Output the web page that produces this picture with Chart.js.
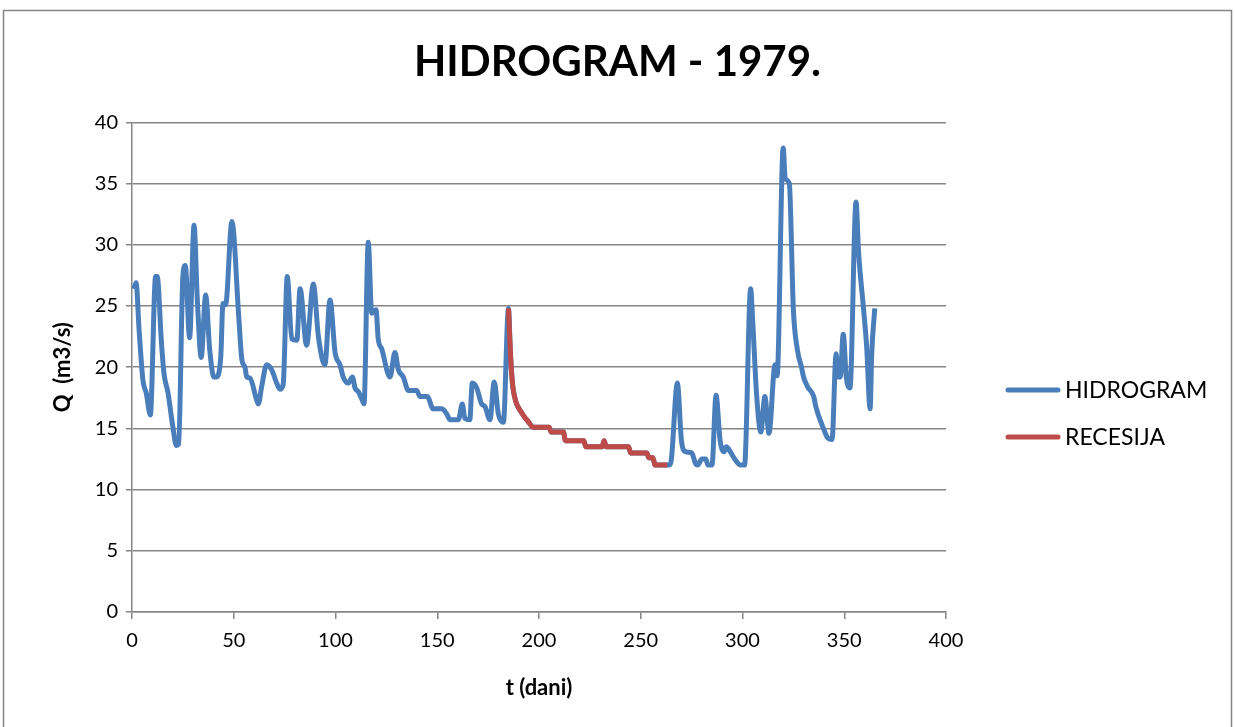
<!DOCTYPE html>
<html>
<head>
<meta charset="utf-8">
<script src="https://cdn.jsdelivr.net/npm/chart.js@4/dist/chart.umd.min.js"></script>
<style>
  html, body { margin: 0; padding: 0; background: #ffffff; }
  #wrap { width: 1235px; height: 727px; }
</style>
</head>
<body>
<div id="wrap"><canvas id="grafica" width="1235" height="727"></canvas></div>
<script>
// Hidrogram 1979 - podaci ocitani sa slike (dan, protok)
const daniPocetak = [1, 2, 3.5, 5.4, 7, 9, 11.6, 12.4, 14.4, 15.7, 17.7, 20.1, 21.8, 22.9, 25, 26.2, 28.3, 30.5, 32.1, 34, 36.2, 38.2, 40.3, 41.4, 43.6, 44.7, 46, 49.1, 52.5, 54, 55.5, 56.4, 58, 61.3, 62.1, 63.7, 66.2, 68.6, 71.1, 72.7, 74.3, 76.3, 78.5, 81, 82.6, 85.8, 89.1, 91.6, 94.8, 97.3, 99.8, 102.2, 103.8, 106.3, 108.3, 109.6, 111.2, 112.9, 114, 116.1, 117.8, 119.9, 121, 122.7, 126.8, 129.2, 130.9, 133.3, 135.8, 139.9, 141.5, 145.1, 148, 152.2, 154.6, 156.3, 160.4, 162.3, 163.6, 166, 167.2, 169.4, 171.8, 173.4, 175.9, 178, 180, 182.5];
const qPocetak = [26.4, 26.9, 23.0, 18.9, 17.9, 16.1, 27.4, 27.4, 22.2, 19.5, 17.9, 15.1, 13.6, 13.7, 27.4, 28.3, 22.4, 31.6, 25.5, 20.8, 25.9, 21.4, 19.2, 19.2, 20.8, 25.2, 25.1, 31.9, 24.0, 20.6, 20.0, 19.2, 19.1, 17.3, 17.0, 18.4, 20.2, 19.8, 18.7, 18.2, 18.6, 27.4, 22.3, 22.2, 26.4, 21.8, 26.8, 22.5, 20.2, 25.5, 21.2, 20.2, 19.2, 18.7, 19.2, 18.3, 18.0, 17.4, 17.0, 30.2, 24.4, 24.7, 22.3, 21.5, 19.2, 21.2, 19.8, 19.2, 18.1, 18.1, 17.6, 17.6, 16.6, 16.6, 16.2, 15.7, 15.7, 17.0, 15.8, 15.7, 18.7, 18.3, 17.0, 16.8, 15.7, 18.8, 16.2, 15.5];

// recesija
const daniRecesija = [185, 186, 187, 188, 189, 191, 193, 195, 197, 205, 206, 212, 213, 222, 223, 231, 232, 233, 244, 245, 253, 254, 256, 257, 263];
const qRecesija = [24.8, 21.0, 18.6, 17.6, 17.0, 16.4, 15.9, 15.5, 15.1, 15.1, 14.7, 14.7, 14.0, 14.0, 13.5, 13.5, 14.0, 13.5, 13.5, 13.0, 13.0, 12.6, 12.6, 12.0, 12.0];

const daniKraj = [264, 265, 268, 270, 272, 275, 277, 278, 280, 282, 283, 285, 287, 289, 291, 292, 294, 295, 297, 299, 301, 304, 305, 307, 309, 311, 313, 316, 317, 320, 321, 323, 325, 327, 329, 330, 332, 335, 336, 340, 342, 344, 346, 347, 348, 349.5, 351, 352.8, 355.8, 357, 359.4, 361, 362.7, 363.5, 365];
const qKraj = [12.0, 12.4, 18.7, 14.0, 13.1, 13.0, 12.1, 12.0, 12.5, 12.5, 12.0, 12.0, 17.7, 14.0, 13.1, 13.5, 13.1, 12.8, 12.3, 12.0, 12.0, 26.4, 23.8, 17.6, 14.7, 17.6, 14.6, 20.2, 19.3, 37.9, 35.4, 35.0, 24.7, 21.4, 20.0, 19.2, 18.4, 17.6, 16.8, 14.9, 14.2, 14.1, 21.1, 19.2, 19.2, 22.7, 19.2, 18.3, 33.5, 29.5, 24.9, 21.7, 16.6, 21.1, 24.8];

const xTicks = [0, 50, 100, 150, 200, 250, 300, 350, 400];
const yTicks = [0, 5, 10, 15, 20, 25, 30, 35, 40];

const toPoints = (xs, ys) => xs.map((x, i) => ({ x: x, y: ys[i] }));
const hidrogram = toPoints(daniPocetak, qPocetak)
  .concat(toPoints(daniRecesija, qRecesija))
  .concat(toPoints(daniKraj, qKraj));
const recesija = toPoints(daniRecesija, qRecesija);

const sivo = '#868686';
const font = 'Lato, "Liberation Sans", sans-serif';

// okvir oko cijelog grafa
const okvir = {
  id: 'okvir',
  beforeDraw(chart) {
    const ctx = chart.ctx;
    ctx.save();
    ctx.fillStyle = '#ffffff';
    ctx.fillRect(0, 0, chart.width, chart.height);
    ctx.strokeStyle = sivo;
    ctx.lineWidth = 1.5;
    ctx.strokeRect(3.5, 10.5, 1228, 740);
    ctx.restore();
  }
};

// legenda desno
const legenda = {
  id: 'legenda',
  afterDraw(chart) {
    const ctx = chart.ctx;
    const stavke = [chart.data.datasets[0], chart.data.datasets[1]];
    ctx.save();
    ctx.font = '23px ' + font;
    ctx.textBaseline = 'middle';
    ctx.lineCap = 'round';
    stavke.forEach((ds, i) => {
      const y = 390 + i * 47;
      ctx.strokeStyle = ds.borderColor;
      ctx.lineWidth = 5;
      ctx.beginPath();
      ctx.moveTo(1008, y);
      ctx.lineTo(1058, y);
      ctx.stroke();
      ctx.fillStyle = '#000000';
      ctx.fillText(ds.label, 1065, y + 1);
    });
    ctx.restore();
  }
};

const $grafica = document.querySelector('#grafica');

new Chart($grafica, {
  type: 'line',
  data: {
    datasets: [
      {
        label: 'HIDROGRAM',
        data: hidrogram,
        borderColor: '#4A7EBB',
        borderWidth: 5,
        pointRadius: 0,
        cubicInterpolationMode: 'monotone',
        order: 1
      },
      {
        label: 'RECESIJA',
        data: recesija,
        borderColor: '#BE4B48',
        borderWidth: 5,
        pointRadius: 0,
        cubicInterpolationMode: 'monotone',
        order: 0
      }
    ]
  },
  options: {
    responsive: false,
    animation: false,
    devicePixelRatio: 1,
    layout: { padding: 0 },
    plugins: {
      legend: { display: false },
      tooltip: { enabled: false },
      title: {
        display: true,
        text: 'HIDROGRAM - 1979.',
        color: '#000000',
        font: { family: font, size: 42, weight: 'bold', lineHeight: 1.2 },
        padding: { top: 37, bottom: 35 }
      }
    },
    scales: {
      x: {
        type: 'linear',
        min: 0,
        max: 400,
        afterFit(scale) { scale.height = 115; },
        afterBuildTicks(scale) { scale.ticks = xTicks.map(v => ({ value: v })); },
        grid: { drawOnChartArea: false, drawTicks: true, tickLength: 7, color: sivo, lineWidth: 1.5 },
        border: { display: true, color: sivo, width: 1.5 },
        ticks: { color: '#000000', font: { family: font, size: 20 }, padding: 10, maxRotation: 0 },
        title: {
          display: true,
          text: 't (dani)',
          color: '#000000',
          font: { family: font, size: 22, weight: 'bold', lineHeight: 1.2 },
          padding: { top: 0, bottom: 26 }
        }
      },
      y: {
        min: 0,
        max: 40,
        afterFit(scale) { scale.width = 132; },
        afterBuildTicks(scale) { scale.ticks = yTicks.map(v => ({ value: v })); },
        grid: { drawOnChartArea: true, drawTicks: true, tickLength: 6, color: sivo, lineWidth: 1.5 },
        border: { display: true, color: sivo, width: 1.5 },
        ticks: { color: '#000000', font: { family: font, size: 20 }, padding: 8 },
        title: {
          display: true,
          text: 'Q  (m3/s)',
          color: '#000000',
          font: { family: font, size: 22, weight: 'bold', lineHeight: 1.2 },
          padding: { top: 50, bottom: 0 }
        }
      },
      desno: {
        position: 'right',
        min: 0,
        max: 40,
        afterFit(scale) { scale.width = 289; },
        grid: { display: false },
        border: { display: false },
        ticks: { display: false }
      }
    }
  },
  plugins: [okvir, legenda]
});
</script>
</body>
</html>
